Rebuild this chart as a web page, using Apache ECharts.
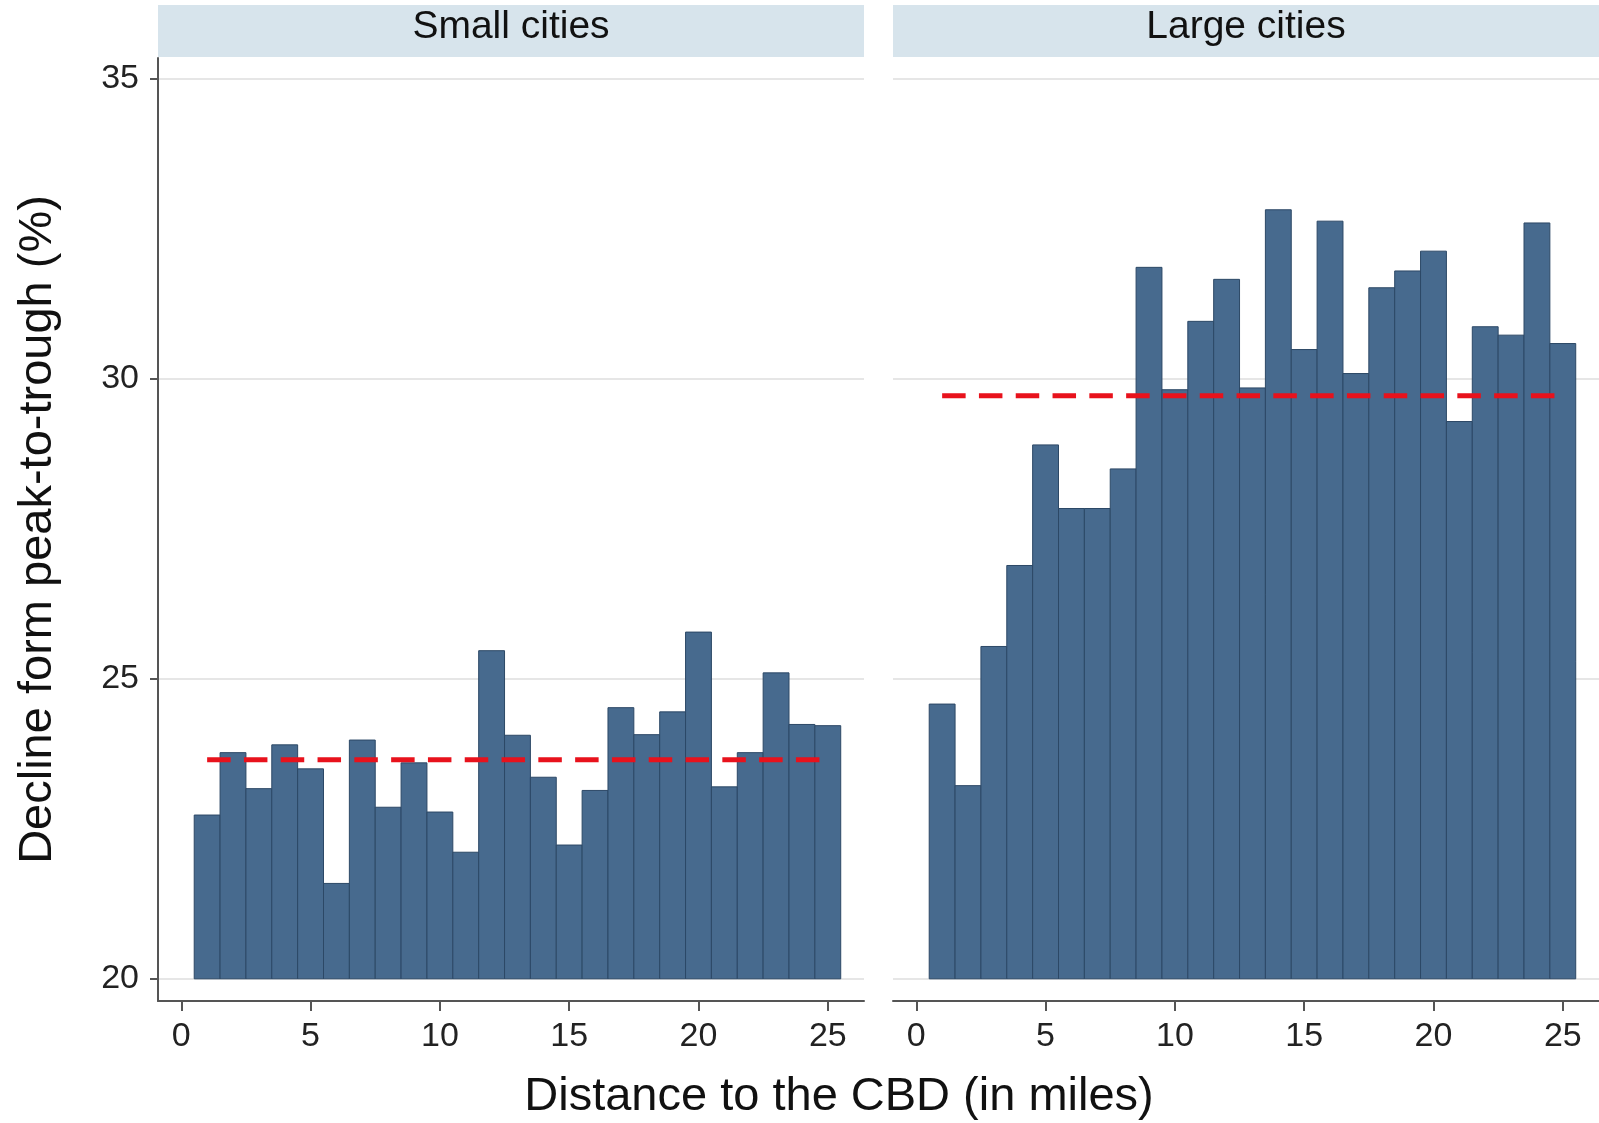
<!DOCTYPE html>
<html>
<head>
<meta charset="utf-8">
<script src="https://cdn.jsdelivr.net/npm/echarts@6/dist/echarts.min.js"></script>
<style>
html,body{margin:0;padding:0;background:#fff;}
#chart{width:1599px;height:1123px;}
</style>
</head>
<body>
<div id="chart"></div>
<script>
// ---- data ----
const distance = [1,2,3,4,5,6,7,8,9,10,11,12,13,14,15,16,17,18,19,20,21,22,23,24,25];
const smallCities = [22.73,23.77,23.17,23.90,23.50,21.59,23.98,22.86,23.60,22.78,22.11,25.47,24.06,23.36,22.23,23.14,24.52,24.07,24.45,25.78,23.20,23.77,25.10,24.24,24.22];
const largeCities = [24.58,23.22,25.54,26.89,28.90,27.84,27.84,28.50,31.86,29.82,30.96,31.66,29.85,32.82,30.49,32.63,30.09,31.52,31.80,32.13,29.29,30.87,30.73,32.60,30.59];
const meanSmall = 23.65;
const meanLarge = 29.72;
const meanRange = [1, 25];
const panelTitles = ['Small cities', 'Large cities'];
const xTicks = [0,5,10,15,20,25];
const yTicks = [20,25,30,35];
const barBase = 20;
const xTitle = 'Distance to the CBD (in miles)';
const yTitle = 'Decline form peak-to-trough (%)';

// ---- styles ----
const FONT = '"Liberation Sans", Arial, sans-serif';
const BAR_FILL = '#476a8e';
const BAR_EDGE = '#2c4866';
const RED = '#e8121c';
const AXIS = '#555555';
const GRID = '#e6e6e6';
const STRIP = '#d7e4ec';

const chart = echarts.init(document.getElementById('chart'), null, {renderer: 'canvas'});

function renderBars(params, api) {
  const x = api.value(0), y = api.value(1);
  const p0 = api.coord([x - 0.5, y]);
  const p1 = api.coord([x + 0.5, barBase]);
  return {
    type: 'rect',
    shape: {x: p0[0], y: p0[1], width: p1[0] - p0[0], height: p1[1] - p0[1]},
    style: {fill: BAR_FILL, stroke: BAR_EDGE, lineWidth: 1}
  };
}

const grids = [
  {left: 158, top: 58, width: 706, bottom: 122},
  {left: 893, top: 58, width: 706, bottom: 122}
];

function xAxisDef(i) {
  return {
    type: 'value', gridIndex: i, min: -0.9, max: 26.4,
    axisLine: {show: true, lineStyle: {color: AXIS, width: 2}},
    axisTick: {show: true, length: 10, customValues: xTicks, lineStyle: {color: AXIS, width: 2}},
    axisLabel: {show: true, customValues: xTicks, margin: 19, fontFamily: FONT, fontSize: 34, color: '#222'},
    splitLine: {show: false}
  };
}
function yAxisDef(i) {
  return {
    type: 'value', gridIndex: i, min: 19.63, max: 35.35,
    axisLine: {show: i === 0, onZero: false, lineStyle: {color: AXIS, width: 2}},
    axisTick: {show: i === 0, length: 8, customValues: yTicks, lineStyle: {color: AXIS, width: 2}},
    axisLabel: {show: i === 0, customValues: yTicks, margin: 19, fontFamily: FONT, fontSize: 34, color: '#222'},
    splitLine: {show: true, lineStyle: {color: GRID, width: 2}},
    name: i === 0 ? yTitle : '',
    nameLocation: 'middle',
    nameGap: 96,
    nameTextStyle: {fontFamily: FONT, fontSize: 47, color: '#111'}
  };
}

const seriesData = [smallCities, largeCities];
const means = [meanSmall, meanLarge];
const series = [];
[0,1].forEach(i => {
  series.push({
    type: 'custom', xAxisIndex: i, yAxisIndex: i,
    renderItem: renderBars,
    data: distance.map((d, k) => [d, seriesData[i][k]]),
    z: 2
  });
  series.push({
    type: 'line', xAxisIndex: i, yAxisIndex: i,
    data: meanRange.map(x => [x, means[i]]),
    symbol: 'none',
    lineStyle: {color: RED, width: 5, type: [23.5, 13.3]},
    z: 5
  });
});

const graphics = [];
grids.forEach((g, i) => {
  graphics.push({
    type: 'rect', left: g.left, top: 5,
    shape: {width: g.width, height: 52},
    style: {fill: STRIP}, z: 0
  });
  graphics.push({
    type: 'text', x: g.left + 353, y: 27,
    style: {text: panelTitles[i], font: '39px ' + FONT, fill: '#111', align: 'center', verticalAlign: 'middle'}
  });
});
graphics.push({
  type: 'text', x: 839, y: 1097,
  style: {text: xTitle, font: '47px ' + FONT, fill: '#111', align: 'center', verticalAlign: 'middle'}
});

chart.setOption({
  animation: false,
  backgroundColor: '#ffffff',
  grid: grids,
  xAxis: [xAxisDef(0), xAxisDef(1)],
  yAxis: [yAxisDef(0), yAxisDef(1)],
  series: series,
  graphic: graphics
});
</script>
</body>
</html>
